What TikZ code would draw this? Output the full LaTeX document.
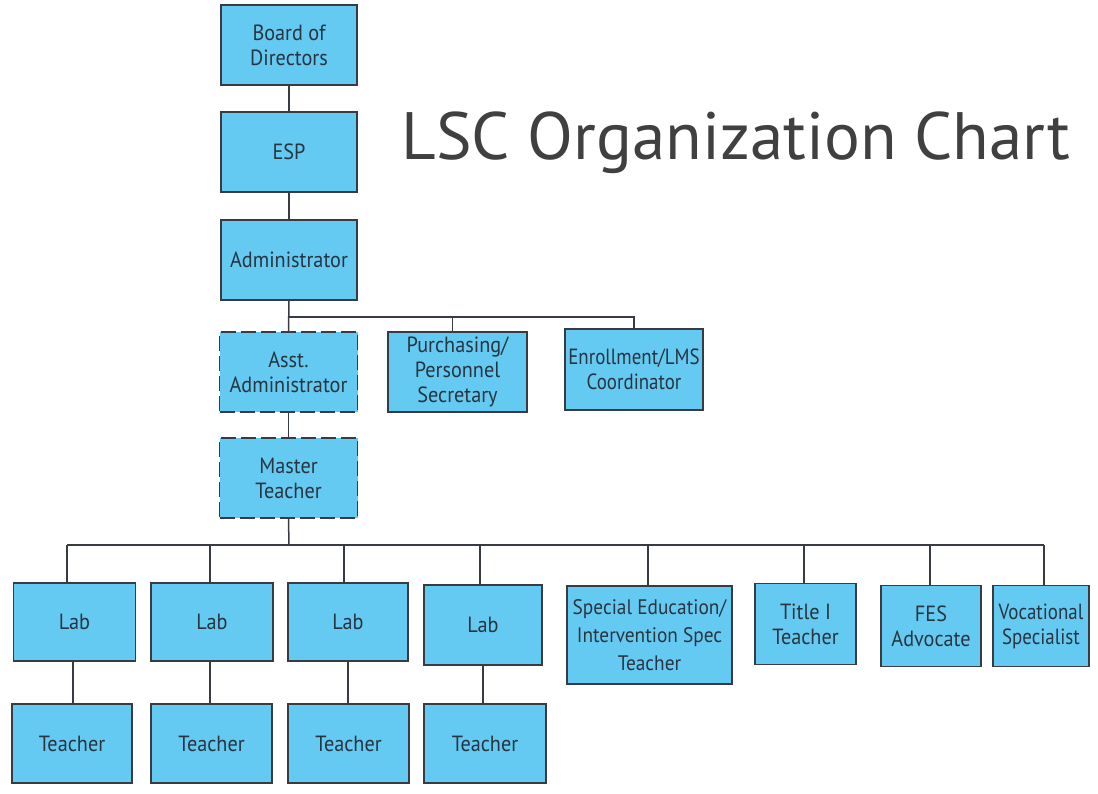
\documentclass[tikz,border=0pt]{standalone}
\usepackage{fontspec}
\newfontfamily\boxfont[FakeStretch=0.92]{PT Sans}
\newfontfamily\narrowfont[FakeStretch=0.86]{PT Sans}
\newfontfamily\titlefont{PT Sans}
\definecolor{boxblue}{RGB}{100,202,242}
\definecolor{boxline}{RGB}{55,60,66}
\definecolor{boxtext}{RGB}{40,52,64}
\definecolor{titlegray}{RGB}{64,64,64}
\tikzset{
  orgbox/.style={draw=boxline, fill=boxblue, line width=1.6pt, inner sep=0pt,
    align=center, text=boxtext, font=\boxfont\fontsize{22}{25}\selectfont},
  dashbox/.style={orgbox, line width=1.8pt, dash pattern=on 15pt off 5pt},
  link/.style={draw=boxline, line width=1.5pt}
}
\begin{document}
\begin{tikzpicture}[x=1pt,y=-1pt]
\useasboundingbox (0,0) rectangle (1098,793);
% title
\node[font=\titlefont\fontsize{67}{72}\selectfont, text=titlegray, anchor=base west] (title) at (398,159) {LSC Organization Chart};
% top column
\node[orgbox, minimum width=136, minimum height=80] (board) at (289,45) {Board of\\Directors};
\node[orgbox, minimum width=136, minimum height=80] (esp) at (289,152) {ESP};
\node[orgbox, minimum width=136, minimum height=80] (admin) at (289,260) {Administrator};
\node[dashbox, minimum width=138, minimum height=80] (asst) at (288.5,372) {Asst.\\Administrator};
\node[orgbox, minimum width=139, minimum height=80] (purch) at (457.5,372) {Purchasing/\\Personnel\\Secretary};
\node[orgbox, minimum width=138, minimum height=81, font=\narrowfont\fontsize{22}{25}\selectfont] (enroll) at (634,369.5) {Enrollment/LMS\\Coordinator};
\node[dashbox, minimum width=138, minimum height=80] (master) at (288.5,478) {Master\\Teacher};
% bottom row
\node[orgbox, minimum width=122, minimum height=78] (lab1) at (74.5,622) {Lab};
\node[orgbox, minimum width=122, minimum height=78] (lab2) at (212,622) {Lab};
\node[orgbox, minimum width=120, minimum height=78] (lab3) at (348,622) {Lab};
\node[orgbox, minimum width=118, minimum height=80] (lab4) at (483,625) {Lab};
\node[orgbox, minimum width=120, minimum height=79] (t1) at (72,743.5) {Teacher};
\node[orgbox, minimum width=121, minimum height=79] (t2) at (211.5,743.5) {Teacher};
\node[orgbox, minimum width=121, minimum height=79] (t3) at (348.5,743.5) {Teacher};
\node[orgbox, minimum width=122, minimum height=79] (t4) at (485,743.5) {Teacher};
\node[orgbox, minimum width=165, minimum height=98, font=\boxfont\fontsize{21}{28}\selectfont] (sped) at (649.5,635) {Special Education/\\Intervention Spec\\Teacher};
\node[orgbox, minimum width=101, minimum height=81] (title1) at (805.5,624) {Title I\\Teacher};
\node[orgbox, minimum width=100, minimum height=81] (fes) at (931,626) {FES\\Advocate};
\node[orgbox, minimum width=96, minimum height=81, font=\narrowfont\fontsize{22}{25}\selectfont] (voc) at (1041,626) {Vocational\\Specialist};
% connectors top
\coordinate (bar1) at (289,317);
\coordinate (bar2) at (289,545);
\draw[link] (board) -- (esp);
\draw[link] (esp) -- (admin);
\draw[link] (admin.south) -- (asst.north);
\draw[link] (bar1) -- (634,317) -- (enroll.north);
\draw[link] ([xshift=-5pt]purch.north) -- ([xshift=-5pt]purch.north |- bar1);
\draw[link] (asst.south) -- (master.north);
\draw[link] (master.south) -- (bar2);
% bottom bar
\coordinate (b0) at (67,545);
\coordinate (b1) at (1044,545);
\draw[link] (b0) -- (b1);
\draw[link] (b0) -- ([xshift=-7.5pt]lab1.north);
\draw[link] ([xshift=-2pt]lab2.north |- b0) -- ([xshift=-2pt]lab2.north);
\draw[link] ([xshift=-4pt]lab3.north |- b0) -- ([xshift=-4pt]lab3.north);
\draw[link] ([xshift=-3pt]lab4.north |- b0) -- ([xshift=-3pt]lab4.north);
\draw[link] ([xshift=-1.5pt]sped.north |- b0) -- ([xshift=-1.5pt]sped.north);
\draw[link] ([xshift=-1.5pt]title1.north |- b0) -- ([xshift=-1.5pt]title1.north);
\draw[link] ([xshift=-1pt]fes.north |- b0) -- ([xshift=-1pt]fes.north);
\draw[link] (b1) -- (b1 |- voc.north);
\draw[link] ([xshift=-1.5pt]lab1.south) -- ([xshift=-1.5pt]lab1.south |- t1.north);
\draw[link] ([xshift=-2pt]lab2.south) -- ([xshift=-2pt]lab2.south |- t2.north);
\draw[link] (lab3.south) -- (lab3.south |- t3.north);
\draw[link] (lab4.south) -- (lab4.south |- t4.north);
\end{tikzpicture}
\end{document}
